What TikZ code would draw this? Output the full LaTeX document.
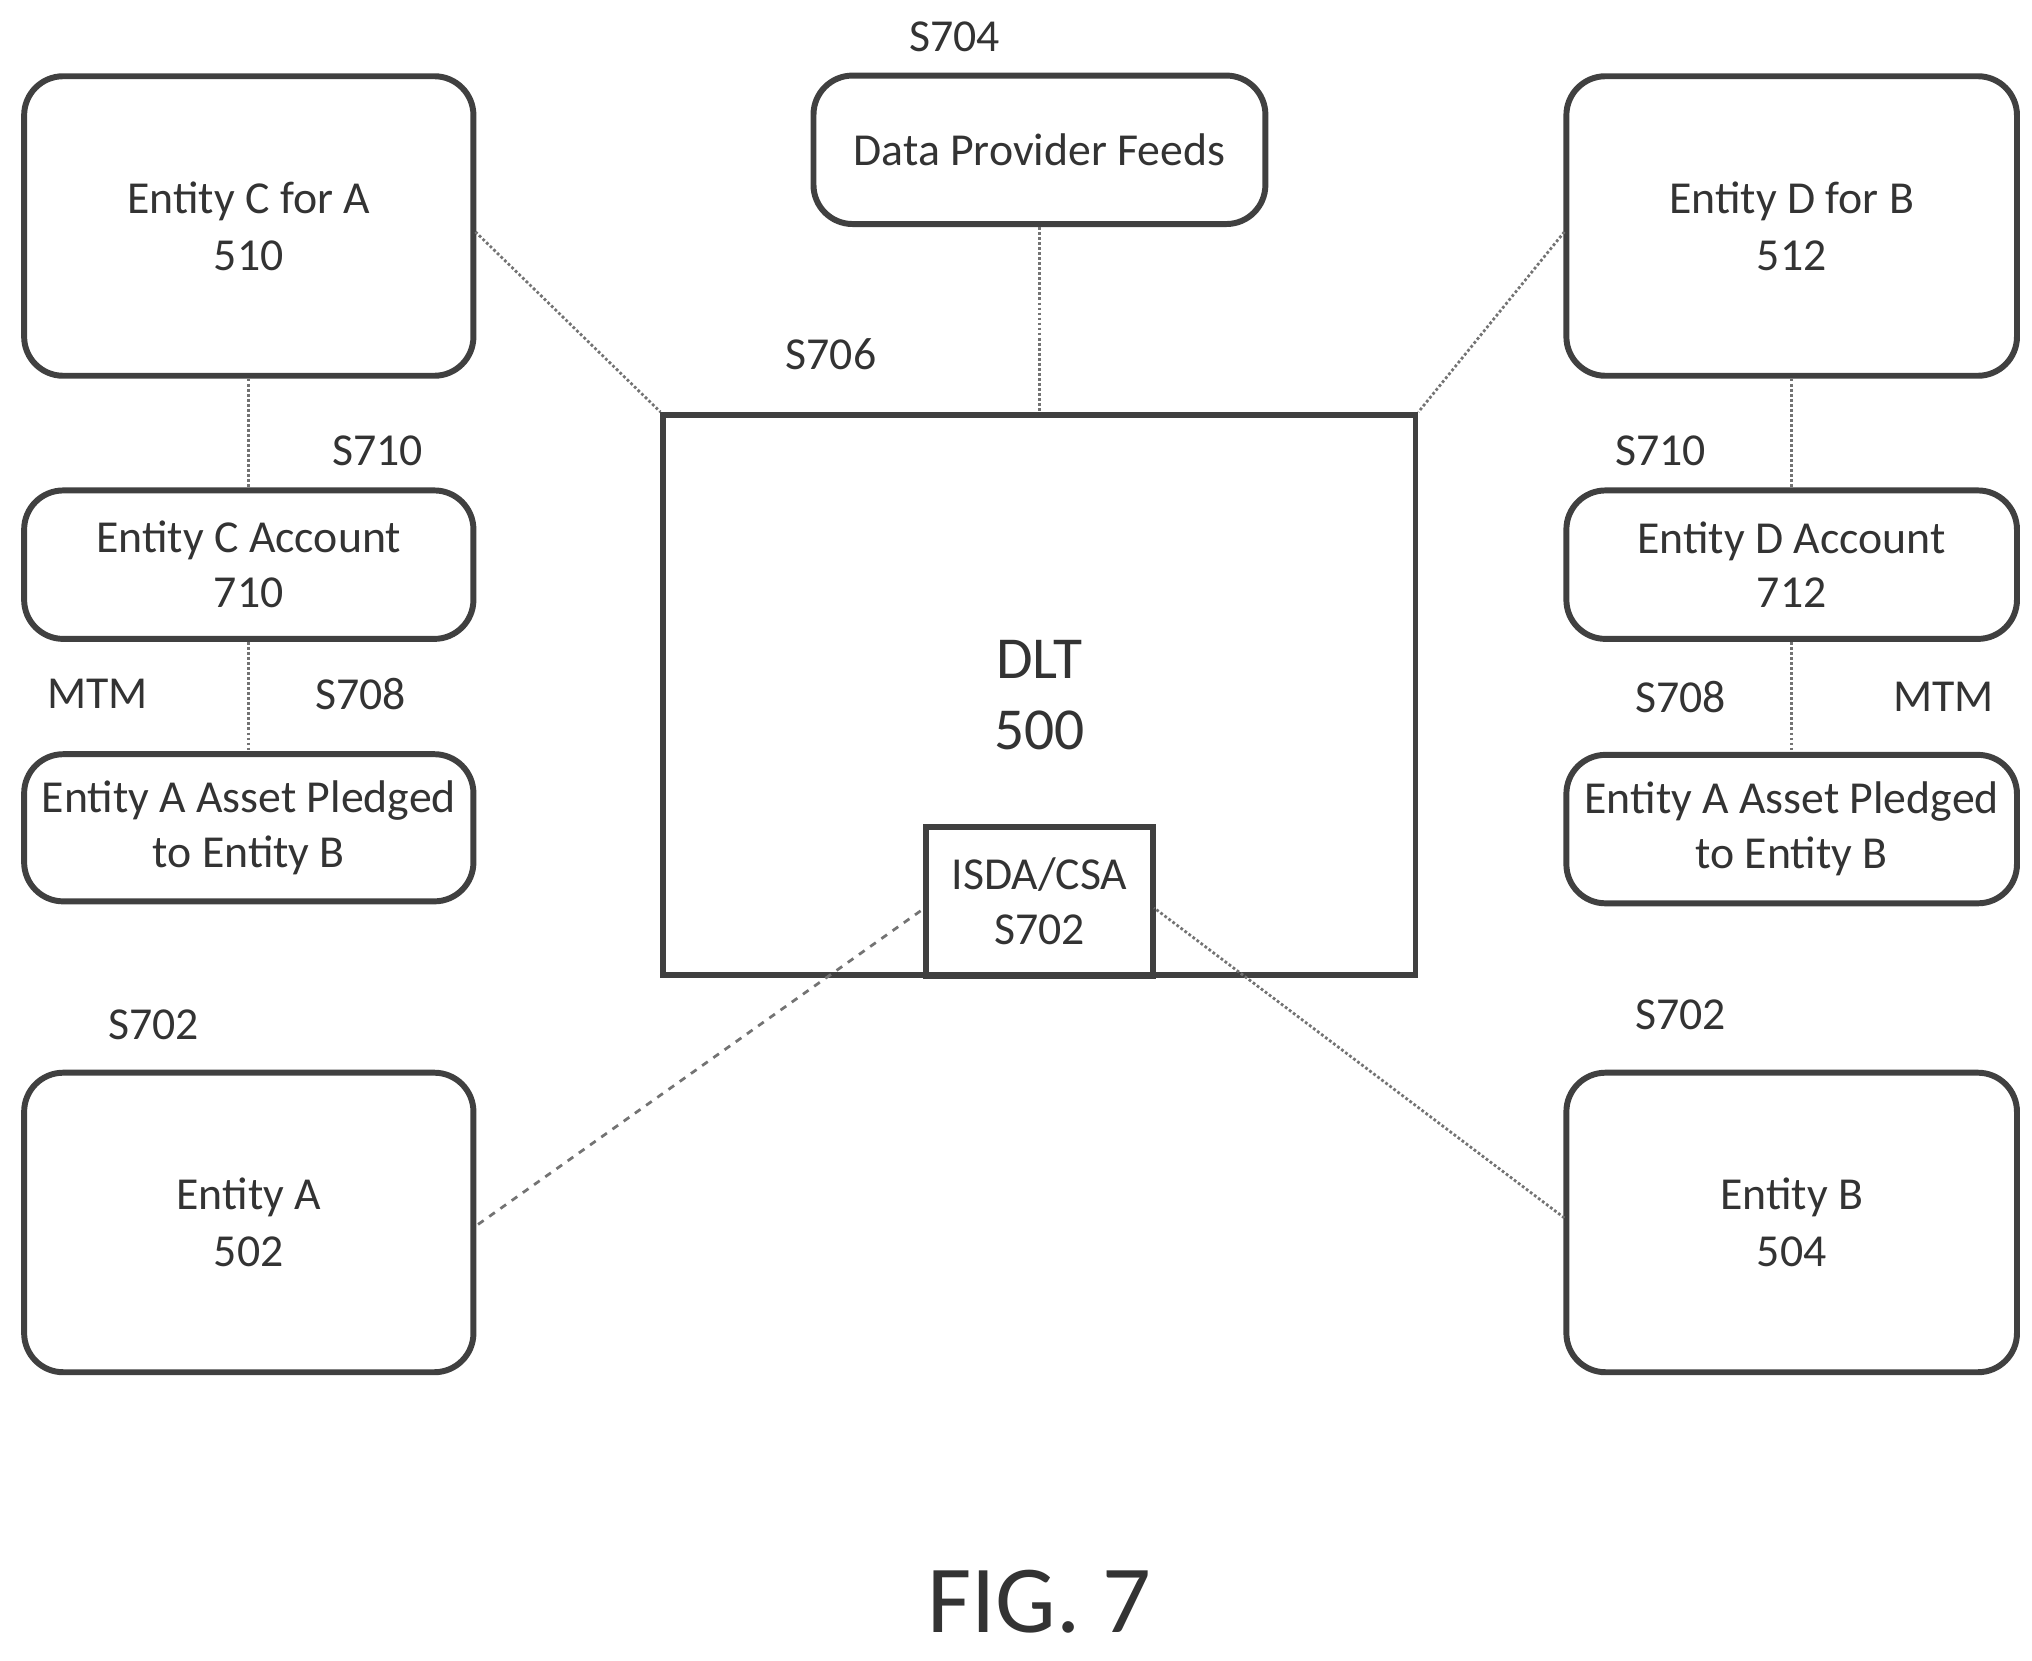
\documentclass[tikz,border=0pt]{standalone}
\usepackage{fontspec}
\setmainfont{Carlito}
\begin{document}
\begin{tikzpicture}[x=0.02cm,y=-0.02cm,
  box/.style={draw=black!75,line width=2.6pt,rounded corners=0.6cm,align=center,inner sep=0pt,font=\fontsize{20}{25}\selectfont,text=black!80},
  sq/.style={draw=black!75,line width=2.6pt,align=center,inner sep=0pt,text=black!80},
  lab/.style={font=\fontsize{20}{24}\selectfont,text=black!80},
  con/.style={draw=black!55,line width=1.2pt,densely dotted}]
\useasboundingbox (0,0) rectangle (1560,1275);
\node[box,minimum width=6.9cm,minimum height=4.6cm] (C) at (191,173.5) {Entity C for A\\510};
\node[box,minimum width=6.94cm,minimum height=2.28cm] (F) at (798,115) {Data Provider Feeds};
\node[box,minimum width=6.92cm,minimum height=4.6cm] (D) at (1375.5,173.5) {Entity D for B\\512};
\node[box,minimum width=6.9cm,minimum height=2.28cm,font=\fontsize{20}{24}\selectfont] (CA) at (191,433.5) {Entity C Account\\710};
\node[box,minimum width=6.92cm,minimum height=2.28cm,font=\fontsize{20}{24}\selectfont] (DA) at (1375.5,433.5) {Entity D Account\\712};
\node[box,minimum width=6.9cm,minimum height=2.26cm,font=\fontsize{20}{24}\selectfont] (PL) at (191,635.5) {Entity A Asset Pledged\\to Entity B};
\node[box,minimum width=6.92cm,minimum height=2.28cm,font=\fontsize{20}{24}\selectfont] (PR) at (1375.5,636.5) {Entity A Asset Pledged\\to Entity B};
\node[box,minimum width=6.9cm,minimum height=4.6cm] (A) at (191,938.5) {Entity A\\502};
\node[box,minimum width=6.92cm,minimum height=4.6cm] (B) at (1375.5,938.5) {Entity B\\504};
\node[sq,minimum width=11.55cm,minimum height=8.6cm,font=\fontsize{26}{31}\selectfont] (DLT) at (798,533.5) {DLT\\500};
\node[sq,minimum width=3.48cm,minimum height=2.28cm,font=\fontsize{20}{24}\selectfont] (I) at (798,692) {ISDA/CSA\\S702};
\coordinate (Cr) at (365,178);
\coordinate (Dl) at (1201,178);
\coordinate (Ar) at (367,940);
\coordinate (Bl) at (1201,935);
\coordinate (Il) at (710,697);
\coordinate (Ir) at (886,697);
\draw[con] (Cr) -- (DLT.north west);
\draw[con] (Dl) -- (DLT.north east);
\draw[con] (F.south) -- (F.south |- DLT.north);
\draw[con] (C.south) -- (CA.north);
\draw[con] (CA.south) -- (PL.north);
\draw[con] (D.south) -- (DA.north);
\draw[con] (DA.south) -- (PR.north);
\draw[con,dashed] (Ar) -- (Il);
\draw[con] (Bl) -- (Ir);
\node[lab] (l1) at (733,28) {S704};
\node[lab] (l2) at (638,272) {S706};
\node[lab] (l3) at (290,346) {S710};
\node[lab] (l4) at (1275,346) {S710};
\node[lab] (l5) at (75,533) {MTM};
\node[lab] (l6) at (277,533) {S708};
\node[lab] (l7) at (1290,535) {S708};
\node[lab] (l8) at (1492,535) {MTM};
\node[lab] (l9) at (118,787) {S702};
\node[lab] (l10) at (1290,779) {S702};
\node[font=\fontsize{42}{50}\selectfont,text=black!80] (fig) at (798,1230) {FIG. 7};
\end{tikzpicture}
\end{document}
